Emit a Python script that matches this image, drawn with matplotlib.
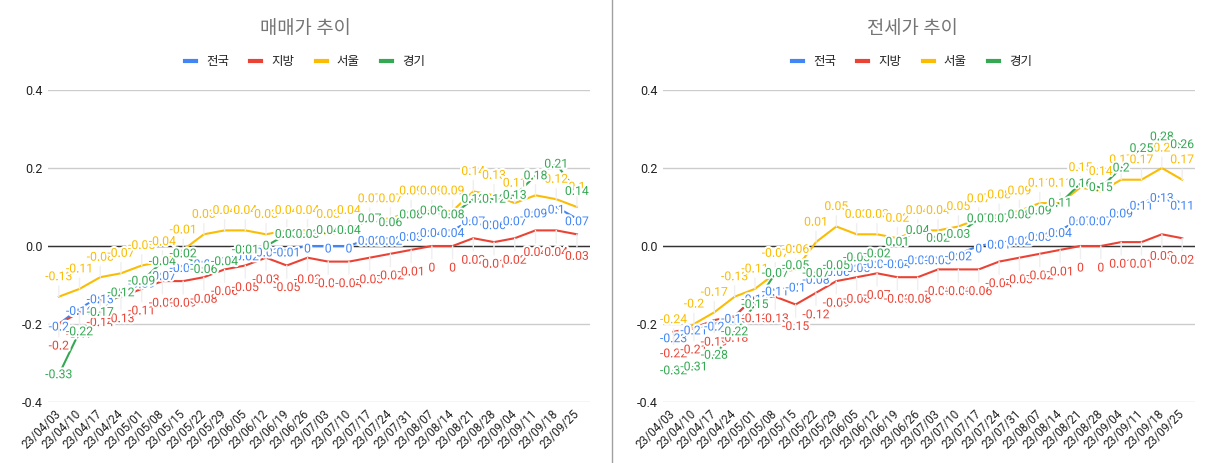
import matplotlib
matplotlib.use("Agg")
import matplotlib.pyplot as plt
import matplotlib.patheffects as pe
from matplotlib.lines import Line2D
from matplotlib.ticker import FormatStrFormatter

plt.rcParams['font.family'] = ['Roboto', 'Noto Sans CJK KR', 'DejaVu Sans']
plt.rcParams['axes.unicode_minus'] = False

# weekly dates
dates = ['23/04/03', '23/04/10', '23/04/17', '23/04/24', '23/05/01', '23/05/08',
         '23/05/15', '23/05/22', '23/05/29', '23/06/05', '23/06/12', '23/06/19',
         '23/06/26', '23/07/03', '23/07/10', '23/07/17', '23/07/24', '23/07/31',
         '23/08/07', '23/08/14', '23/08/21', '23/08/28', '23/09/04', '23/09/11',
         '23/09/18', '23/09/25']

names = ['전국', '지방', '서울', '경기']
colors = ['#4285f4', '#ea4335', '#fbbc04', '#34a853']

# 매매가 (sale price)
sale_all = [-0.2, -0.16, -0.13, -0.11, -0.09, -0.07, -0.05, -0.04, -0.03, -0.02, -0.01, -0.01, 0,
            0, 0, 0.02, 0.02, 0.03, 0.04, 0.04, 0.07, 0.06, 0.07, 0.09, 0.1, 0.07]
sale_local = [-0.2, -0.17, -0.14, -0.13, -0.11, -0.09, -0.09, -0.08, -0.06, -0.05, -0.03, -0.05, -0.03,
              -0.04, -0.04, -0.03, -0.02, -0.01, 0, 0, 0.02, 0.01, 0.02, 0.04, 0.04, 0.03]
sale_seoul = [-0.13, -0.11, -0.08, -0.07, -0.05, -0.04, -0.01, 0.03, 0.04, 0.04, 0.03, 0.04, 0.04,
              0.03, 0.04, 0.07, 0.07, 0.09, 0.09, 0.09, 0.14, 0.13, 0.11, 0.13, 0.12, 0.1]
sale_gg = [-0.33, -0.22, -0.17, -0.12, -0.09, -0.04, -0.02, -0.06, -0.04, -0.01, 0, 0.03, 0.03,
           0.04, 0.04, 0.07, 0.06, 0.08, 0.09, 0.08, 0.12, 0.12, 0.13, 0.18, 0.21, 0.14]

# 전세가 (jeonse price)
rent_all = [-0.23, -0.21, -0.2, -0.18, -0.13, -0.11, -0.1, -0.08, -0.06, -0.05, -0.04, -0.04, -0.03,
            -0.03, -0.02, 0, 0.01, 0.02, 0.03, 0.04, 0.07, 0.07, 0.09, 0.11, 0.13, 0.11]
rent_local = [-0.22, -0.21, -0.19, -0.18, -0.13, -0.13, -0.15, -0.12, -0.09, -0.08, -0.07, -0.08, -0.08,
              -0.06, -0.06, -0.06, -0.04, -0.03, -0.02, -0.01, 0, 0, 0.01, 0.01, 0.03, 0.02]
rent_seoul = [-0.24, -0.2, -0.17, -0.13, -0.11, -0.07, -0.06, 0.01, 0.05, 0.03, 0.03, 0.02, 0.04,
              0.04, 0.05, 0.07, 0.08, 0.09, 0.11, 0.11, 0.15, 0.14, 0.17, 0.17, 0.2, 0.17]
rent_gg = [-0.32, -0.31, -0.28, -0.22, -0.15, -0.07, -0.05, -0.07, -0.05, -0.03, -0.02, 0.01, 0.04,
           0.02, 0.03, 0.07, 0.07, 0.08, 0.09, 0.11, 0.16, 0.15, 0.2, 0.25, 0.28, 0.26]

# label offset (pixels) per series: blue, red, yellow, green
label_dy = [-3, -22, 20, 0]

W, H = 1208, 463
fig = plt.figure(figsize=(W / 100, H / 100), dpi=100)


def panel(x0, x1, cx, title, series):
    ax = fig.add_axes([x0 / W, 1 - 402 / H, (x1 - x0) / W, 312 / H])
    xs = list(range(len(dates)))
    for vals, c in zip(series, colors):
        ax.plot(xs, vals, color=c, lw=1.5, zorder=3)
    halo = [pe.withStroke(linewidth=3, foreground='white')]
    for vals, c, dy in zip(series, colors, label_dy):
        for i, v in enumerate(vals):
            arrow = None
            if abs(dy) > 5:
                arrow = dict(arrowstyle='-', color='#efefef', lw=1, shrinkA=0, shrinkB=0)
            ax.annotate(f'{v:g}', (i, v), xytext=(0, dy), textcoords='offset pixels',
                        ha='center', va='center', fontsize=8.8, color=c, zorder=5,
                        path_effects=halo, arrowprops=arrow)

    ax.set_ylim(-0.4, 0.4)
    ax.set_xlim(-0.52, 25.63)
    ax.set_yticks([-0.4, -0.2, 0, 0.2, 0.4])
    ax.yaxis.set_major_formatter(FormatStrFormatter('%.1f'))
    ax.set_xticks(xs)
    ax.set_xticklabels(dates, rotation=45, ha='right', va='center', rotation_mode='anchor')
    ax.tick_params(axis='x', length=0, pad=7, labelsize=8.5, labelcolor='#222222')
    ax.tick_params(axis='y', length=0, pad=4, labelsize=9, labelcolor='#222222')
    ax.grid(axis='y', color='#cccccc', lw=1)
    ax.set_axisbelow(True)
    ax.axhline(0, color='#333333', lw=1, zorder=2)
    for s in ax.spines.values():
        s.set_visible(False)

    fig.text(cx / W, 1 - 29 / H, title, ha='center', va='center', fontsize=13.5, color='#757575')
    handles = [Line2D([], [], color=c, lw=3) for c in colors]
    fig.legend(handles, names, loc='center', bbox_to_anchor=(cx / W, 1 - 62 / H), ncol=4,
               frameon=False, fontsize=9, handlelength=0.9, handletextpad=0.8,
               columnspacing=1.7, labelcolor='#222222')
    return ax


panel(48, 590, 305, '매매가 추이', [sale_all, sale_local, sale_seoul, sale_gg])
panel(663, 1195, 912, '전세가 추이', [rent_all, rent_local, rent_seoul, rent_gg])

fig.add_artist(Line2D([612 / W, 612 / W], [0, 1], color='#a0a0a0', lw=1))

fig.savefig('out.png', dpi=100)
